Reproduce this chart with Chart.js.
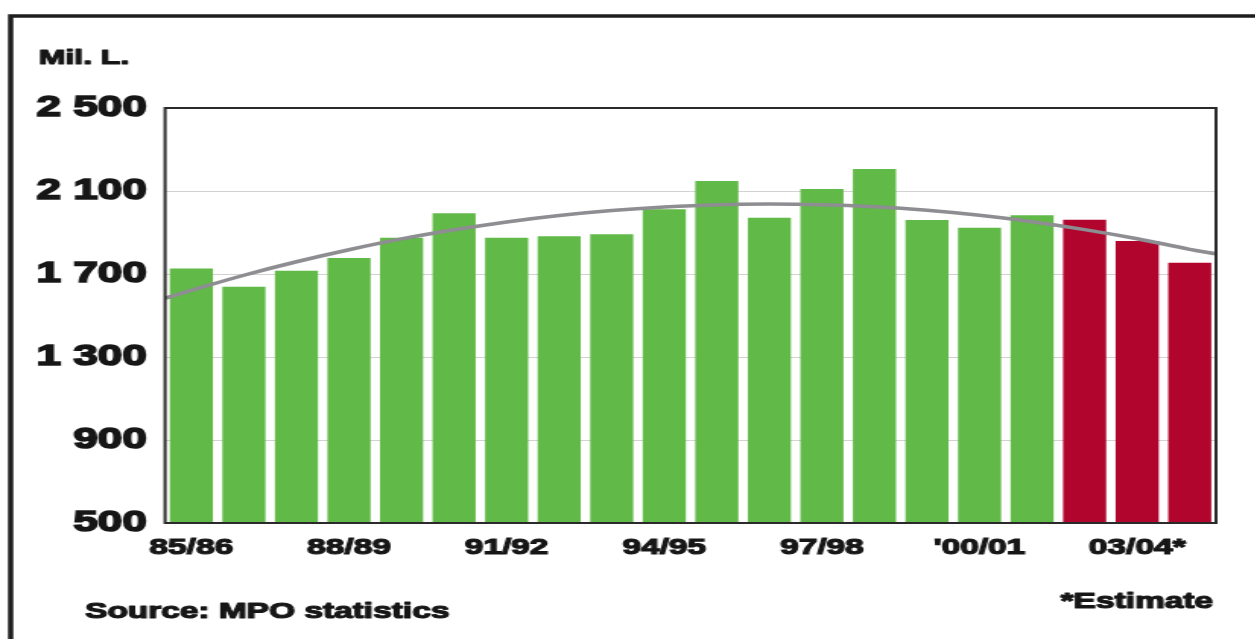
<!DOCTYPE html>
<html>
<head>
<meta charset="utf-8">
<script src="https://cdn.jsdelivr.net/npm/chart.js@4/dist/chart.umd.min.js"></script>
<style>
  html, body { margin: 0; padding: 0; background: #ffffff; overflow: hidden; }
  #wrap {
    position: absolute; left: 0; top: 0;
    width: 826px; height: 639px;
    transform: scaleX(1.52); transform-origin: 0 0;
  }
  canvas { display: block; }
</style>
</head>
<body>
<div id="wrap"><canvas id="chart"></canvas></div>
<script>
// Marketing years, production in million litres
const seasons = ['85/86', '86/87', '87/88', '88/89', '89/90', '90/91', '91/92', '92/93',
                 '93/94', '94/95', '95/96', '96/97', '97/98', '98/99', '99/00', "'00/01",
                 '01/02', '02/03*', '03/04*', '04/05*'];
const production = [1727, 1639, 1716, 1777, 1875, 1993, 1875, 1882, 1891, 2012,
                    2148, 1971, 2110, 2206, 1960, 1923, 1983, 1962, 1859, 1754];
const isEstimate = [false, false, false, false, false, false, false, false, false, false,
                    false, false, false, false, false, false, false, true, true, true];

// Long-term trend curve, sampled at each season (plus both plot edges)
const trendPos = [-0.5, 0, 1, 2, 3, 4, 5, 6, 7, 8, 9, 10, 11, 12, 13, 14, 15, 16, 17, 18, 19, 19.5];
const trendVal = [1583, 1621, 1694, 1759, 1817, 1869, 1913, 1951, 1982, 2006, 2023,
                  2034, 2037, 2034, 2024, 2007, 1983, 1952, 1914, 1870, 1819, 1797];

const yTicks = [500, 900, 1300, 1700, 2100, 2500];
const shownTickEvery = 3;

const FONT = '"Liberation Sans", Arial, Helvetica, sans-serif';
const INK = '#161616';

function heavyText(ctx, text, x, y) {
  ctx.strokeText(text, x, y);
  ctx.fillText(text, x, y);
}

const frameAndNotes = {
  id: 'frameAndNotes',
  afterDatasetsDraw(chart) {
    const { ctx, chartArea: a } = chart;
    ctx.save();
    // plot box
    ctx.strokeStyle = '#2a2a2a';
    ctx.lineWidth = 2;
    ctx.strokeRect(a.left, a.top, a.right - a.left, a.bottom - a.top);
    ctx.restore();
  },
  afterDraw(chart) {
    const { ctx } = chart;
    ctx.save();
    // outer frame
    ctx.strokeStyle = '#1e1e1e';
    ctx.lineWidth = 3.5;
    ctx.strokeRect(7, 16, 900, 700);
    // captions
    ctx.fillStyle = INK;
    ctx.strokeStyle = INK;
    ctx.lineWidth = 1.2;
    ctx.lineJoin = 'round';
    ctx.textBaseline = 'alphabetic';
    ctx.font = 'bold 21px ' + FONT;
    ctx.textAlign = 'left';
    heavyText(ctx, 'Mil. L.', 25.5, 64);
    ctx.font = 'bold 22px ' + FONT;
    heavyText(ctx, 'Source: MPO statistics', 56, 618);
    ctx.textAlign = 'right';
    heavyText(ctx, '*Estimate', 798, 608);
    ctx.restore();
  }
};

new Chart(document.getElementById('chart'), {
  type: 'bar',
  data: {
    labels: seasons,
    datasets: [
      {
        type: 'line',
        label: 'Trend',
        data: trendPos.map((p, i) => ({ x: p, y: trendVal[i] })),
        xAxisID: 'xt',
        borderColor: '#8d8d92',
        borderWidth: 3.5,
        pointRadius: 0,
        tension: 0.4,
        fill: false,
        order: 0
      },
      {
        type: 'bar',
        label: 'Production',
        data: production,
        xAxisID: 'x',
        backgroundColor: isEstimate.map(e => e ? '#b1052d' : '#61b947'),
        borderWidth: 0,
        grouped: false,
        barPercentage: 0.82,
        categoryPercentage: 1,
        order: 1
      }
    ]
  },
  options: {
    responsive: true,
    maintainAspectRatio: false,
    animation: false,
    layout: { padding: { left: 0, top: 108, right: 26, bottom: 0 } },
    plugins: { legend: { display: false }, tooltip: { enabled: false } },
    scales: {
      x: {
        type: 'category',
        offset: true,
        grid: { display: false, drawTicks: false },
        border: { display: false },
        ticks: {
          autoSkip: false,
          maxRotation: 0,
          padding: 12,
          color: INK,
          textStrokeColor: INK,
          textStrokeWidth: 1.2,
          font: { family: FONT, size: 22, weight: 'bold' },
          callback(v, i) { return i % shownTickEvery === 0 ? seasons[i] : ''; }
        },
        afterFit(scale) { scale.height = 116; }
      },
      xt: {
        type: 'linear',
        display: false,
        offset: false,
        grid: { offset: false },
        min: -0.5,
        max: 19.5
      },
      y: {
        min: 500,
        max: 2500,
        afterBuildTicks(scale) { scale.ticks = yTicks.map(v => ({ value: v })); },
        grid: { color: '#d2d2d2', lineWidth: 1, drawTicks: false },
        border: { display: false },
        ticks: {
          padding: 12,
          color: INK,
          textStrokeColor: INK,
          textStrokeWidth: 1.6,
          font: { family: FONT, size: 29, weight: 'bold' },
          callback(v) {
            return String(v).replace(/\B(?=(\d{3})+(?!\d))/g, ' ');
          }
        },
        afterFit(scale) { scale.width = 108.6; }
      }
    }
  },
  plugins: [frameAndNotes]
});
</script>
</body>
</html>
